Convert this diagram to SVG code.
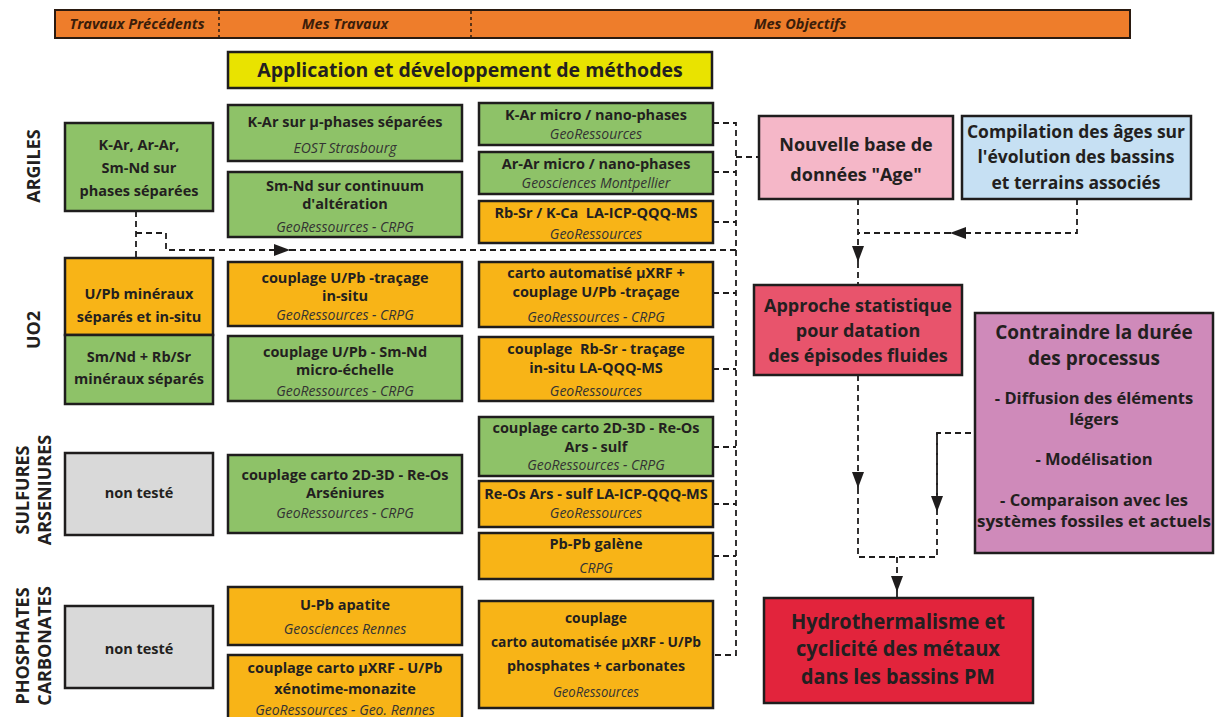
<svg xmlns="http://www.w3.org/2000/svg" width="1216" height="717" viewBox="0 0 1216 717">
<defs>
<style>
.bx{stroke:#1f1d1d;stroke-width:2.5}
.g{fill:#8ec268}.o{fill:#f8b417}.gr{fill:#d9d9d9}
.t{font-family:"Open Sans",Lato,sans-serif;font-weight:700;font-size:14.5px;fill:#231f20;text-anchor:middle}
.i{font-family:"Open Sans",Lato,sans-serif;font-style:italic;font-weight:400;font-size:14px;fill:#333333;text-anchor:middle}
.h{font-family:"Open Sans",Lato,sans-serif;font-style:italic;font-weight:700;font-size:14.5px;fill:#3b1d0a;text-anchor:middle}
.lab{font-family:"Open Sans",Lato,sans-serif;font-weight:700;font-size:18px;fill:#231f20;text-anchor:middle}
.r{font-family:"Open Sans",Lato,sans-serif;font-weight:700;font-size:17.5px;fill:#231f20;text-anchor:middle}
.c{fill:none;stroke:#1f1d1d;stroke-width:1.8;stroke-dasharray:6 4}
</style>
<marker id="arb" viewBox="0 0 16 12" refX="16" refY="6" markerWidth="18" markerHeight="12" markerUnits="userSpaceOnUse" orient="auto">
<path d="M0,0 L16,6 L0,12 z" fill="#1f1d1d"/>
</marker>
</defs>
<rect width="1216" height="717" fill="#ffffff"/>

<g id="header">
<rect x="55" y="10" width="1075" height="28" fill="#ee7d2b" stroke="#2a1a10" stroke-width="2"/>
<line x1="219" y1="11" x2="219" y2="37" stroke="#2a1a10" stroke-width="1.5" stroke-dasharray="3 3"/>
<line x1="471" y1="11" x2="471" y2="37" stroke="#2a1a10" stroke-width="1.5" stroke-dasharray="3 3"/>
<text class="h" x="137" y="29">Travaux Précédents</text>
<text class="h" x="345" y="29">Mes Travaux</text>
<text class="h" x="800" y="29">Mes Objectifs</text>
</g>

<g id="title">
<rect x="228" y="52" width="484" height="36" fill="#e9e300" stroke="#1f1d1d" stroke-width="2.5"/>
<text class="t" x="470" y="77" style="font-size:19.5px">Application et développement de méthodes</text>
</g>

<g id="labels">
<text class="lab" transform="translate(40,166) rotate(-90)">ARGILES</text>
<text class="lab" transform="translate(40,330) rotate(-90)">UO2</text>
<text class="lab" transform="translate(29,490) rotate(-90)">SULFURES</text>
<text class="lab" transform="translate(51,490) rotate(-90)">ARSENIURES</text>
<text class="lab" transform="translate(29,646) rotate(-90)">PHOSPHATES</text>
<text class="lab" transform="translate(51,646) rotate(-90)">CARBONATES</text>
</g>

<g id="prev-argiles">
<rect class="bx g" x="65" y="123" width="148" height="88"/>
<text class="t" x="139" y="150">K-Ar, Ar-Ar,</text>
<text class="t" x="139" y="173">Sm-Nd sur</text>
<text class="t" x="139" y="196">phases séparées</text>
</g>
<g id="prev-upb">
<rect class="bx o" x="65" y="258" width="148" height="77"/>
<text class="t" x="139" y="299">U/Pb minéraux</text>
<text class="t" x="139" y="322">séparés et in-situ</text>
</g>
<g id="prev-smnd">
<rect class="bx g" x="65" y="335" width="148" height="69"/>
<text class="t" x="139" y="362">Sm/Nd + Rb/Sr</text>
<text class="t" x="139" y="384">minéraux séparés</text>
</g>
<g id="prev-sulf">
<rect class="bx gr" x="65" y="453" width="148" height="82"/>
<text class="t" x="139" y="498">non testé</text>
</g>
<g id="prev-phos">
<rect class="bx gr" x="65" y="606" width="148" height="82"/>
<text class="t" x="139" y="654">non testé</text>
</g>

<g id="tr-kar">
<rect class="bx g" x="228" y="105" width="234" height="56"/>
<text class="t" x="345" y="127">K-Ar sur μ-phases séparées</text>
<text class="i" x="345" y="153">EOST Strasbourg</text>
</g>
<g id="tr-smnd">
<rect class="bx g" x="228" y="172" width="234" height="65"/>
<text class="t" x="345" y="191">Sm-Nd sur continuum</text>
<text class="t" x="345" y="209">d'altération</text>
<text class="i" x="345" y="232">GeoRessources - CRPG</text>
</g>
<g id="tr-upb">
<rect class="bx o" x="228" y="262" width="234" height="64"/>
<text class="t" x="345" y="283">couplage U/Pb -traçage</text>
<text class="t" x="345" y="301">in-situ</text>
<text class="i" x="345" y="320">GeoRessources - CRPG</text>
</g>
<g id="tr-upbsmnd">
<rect class="bx g" x="228" y="336" width="234" height="65"/>
<text class="t" x="345" y="357">couplage U/Pb - Sm-Nd</text>
<text class="t" x="345" y="375">micro-échelle</text>
<text class="i" x="345" y="396">GeoRessources - CRPG</text>
</g>
<g id="tr-reos">
<rect class="bx g" x="228" y="455" width="234" height="78"/>
<text class="t" x="345" y="480">couplage carto 2D-3D - Re-Os</text>
<text class="t" x="345" y="498">Arséniures</text>
<text class="i" x="345" y="518">GeoRessources - CRPG</text>
</g>
<g id="tr-apatite">
<rect class="bx o" x="228" y="587" width="234" height="58"/>
<text class="t" x="345" y="610">U-Pb apatite</text>
<text class="i" x="345" y="634">Geosciences Rennes</text>
</g>
<g id="tr-xeno">
<rect class="bx o" x="228" y="655" width="234" height="70"/>
<text class="t" x="345" y="673">couplage carto μXRF - U/Pb</text>
<text class="t" x="345" y="694">xénotime-monazite</text>
<text class="i" x="345" y="715">GeoRessources - Geo. Rennes</text>
</g>

<g id="ob-kar">
<rect class="bx g" x="479" y="103" width="234" height="42"/>
<text class="t" x="596" y="120">K-Ar micro / nano-phases</text>
<text class="i" x="596" y="139">GeoRessources</text>
</g>
<g id="ob-arar">
<rect class="bx g" x="479" y="152" width="234" height="42"/>
<text class="t" x="596" y="169">Ar-Ar micro / nano-phases</text>
<text class="i" x="596" y="188">Geosciences Montpellier</text>
</g>
<g id="ob-rbsr">
<rect class="bx o" x="479" y="201" width="234" height="42"/>
<text class="t" x="596" y="218" style="white-space:pre">Rb-Sr / K-Ca  LA-ICP-QQQ-MS</text>
<text class="i" x="596" y="239">GeoRessources</text>
</g>
<g id="ob-carto">
<rect class="bx o" x="479" y="262" width="234" height="65"/>
<text class="t" x="596" y="278">carto automatisé μXRF +</text>
<text class="t" x="596" y="297">couplage U/Pb -traçage</text>
<text class="i" x="596" y="322">GeoRessources - CRPG</text>
</g>
<g id="ob-rbsr2">
<rect class="bx o" x="479" y="337" width="234" height="64"/>
<text class="t" x="596" y="354" style="white-space:pre">couplage  Rb-Sr - traçage</text>
<text class="t" x="596" y="373">in-situ LA-QQQ-MS</text>
<text class="i" x="596" y="396">GeoRessources</text>
</g>
<g id="ob-reos">
<rect class="bx g" x="479" y="417" width="234" height="59"/>
<text class="t" x="596" y="433">couplage carto 2D-3D - Re-Os</text>
<text class="t" x="596" y="452">Ars - sulf</text>
<text class="i" x="596" y="470">GeoRessources - CRPG</text>
</g>
<g id="ob-reos2">
<rect class="bx o" x="479" y="481" width="234" height="46"/>
<text class="t" x="596" y="499">Re-Os Ars - sulf LA-ICP-QQQ-MS</text>
<text class="i" x="596" y="518">GeoRessources</text>
</g>
<g id="ob-pbpb">
<rect class="bx o" x="479" y="533" width="234" height="46"/>
<text class="t" x="596" y="549">Pb-Pb galène</text>
<text class="i" x="596" y="573">CRPG</text>
</g>
<g id="ob-phos">
<rect class="bx o" x="479" y="601" width="234" height="107"/>
<text class="t" x="596" y="623" textLength="62" lengthAdjust="spacingAndGlyphs">couplage</text>
<text class="t" x="596" y="647" textLength="210" lengthAdjust="spacingAndGlyphs">carto automatisée μXRF - U/Pb</text>
<text class="t" x="596" y="671" textLength="178" lengthAdjust="spacingAndGlyphs">phosphates + carbonates</text>
<text class="i" x="596" y="697" textLength="86" lengthAdjust="spacingAndGlyphs">GeoRessources</text>
</g>

<g id="nouvelle">
<rect class="bx" x="759" y="116" width="194" height="83" fill="#f5b7c8"/>
<text class="r" x="856" y="151" style="font-size:18px">Nouvelle base de</text>
<text class="r" x="856" y="181" style="font-size:18px">données "Age"</text>
</g>
<g id="compilation">
<rect class="bx" x="962" y="116" width="229" height="83" fill="#c6e0f3"/>
<text class="r" x="1076" y="138">Compilation des âges sur</text>
<text class="r" x="1076" y="163">l'évolution des bassins</text>
<text class="r" x="1076" y="189">et terrains associés</text>
</g>
<g id="approche">
<rect class="bx" x="754" y="285" width="208" height="90" fill="#e8546c"/>
<text class="r" x="858" y="312" style="font-size:18px">Approche statistique</text>
<text class="r" x="858" y="337" style="font-size:18px">pour datation</text>
<text class="r" x="858" y="362" style="font-size:18px">des épisodes fluides</text>
</g>
<g id="contraindre">
<rect class="bx" x="975" y="313" width="238" height="240" fill="#cf8aba"/>
<text class="r" x="1094" y="339" style="font-size:19px">Contraindre la durée</text>
<text class="r" x="1094" y="365" style="font-size:19px">des processus</text>
<text class="r" x="1094" y="404" style="font-size:16.5px">- Diffusion des éléments</text>
<text class="r" x="1094" y="425" style="font-size:16.5px">légers</text>
<text class="r" x="1094" y="465" style="font-size:16.5px">- Modélisation</text>
<text class="r" x="1094" y="506" style="font-size:16.5px">- Comparaison avec les</text>
<text class="r" x="1094" y="527" style="font-size:16.5px" textLength="234" lengthAdjust="spacingAndGlyphs">systèmes fossiles et actuels</text>
</g>
<g id="hydro">
<rect class="bx" x="764" y="598" width="269" height="105" fill="#e2243c"/>
<text class="r" x="898" y="629" style="font-size:21px" textLength="214" lengthAdjust="spacingAndGlyphs">Hydrothermalisme et</text>
<text class="r" x="898" y="656" style="font-size:21px" textLength="204" lengthAdjust="spacingAndGlyphs">cyclicité des métaux</text>
<text class="r" x="898" y="684" style="font-size:21px" textLength="194" lengthAdjust="spacingAndGlyphs">dans les bassins PM</text>
</g>

<g id="connectors">
<path class="c" d="M136,211 L136,258"/>
<path class="c" d="M136,233 L166,233 L166,250 L290,250" marker-end="url(#arb)"/>
<path class="c" d="M290,250 L736,250"/>
<path class="c" d="M713,123 L736,123 L736,655 L713,655"/>
<path class="c" d="M713,172 L736,172"/>
<path class="c" d="M713,222 L736,222"/>
<path class="c" d="M713,293 L736,293"/>
<path class="c" d="M713,369 L736,369"/>
<path class="c" d="M713,447 L736,447"/>
<path class="c" d="M713,504 L736,504"/>
<path class="c" d="M713,556 L736,556"/>
<path class="c" d="M736,157 L759,157"/>
<path class="c" d="M858,199 L858,262" marker-end="url(#arb)"/>
<path class="c" d="M858,262 L858,285"/>
<path class="c" d="M1077,199 L1077,233 L950,233" marker-end="url(#arb)"/>
<path class="c" d="M950,233 L858,233"/>
<path class="c" d="M858,375 L858,488" marker-end="url(#arb)"/>
<path class="c" d="M858,488 L858,557 L937,557 L937,433 L975,433"/>
<path class="c" d="M937,433 L937,512" marker-end="url(#arb)"/>
<path class="c" d="M897,557 L897,592" marker-end="url(#arb)"/>
<path class="c" d="M897,592 L897,598"/>
</g>
</svg>
